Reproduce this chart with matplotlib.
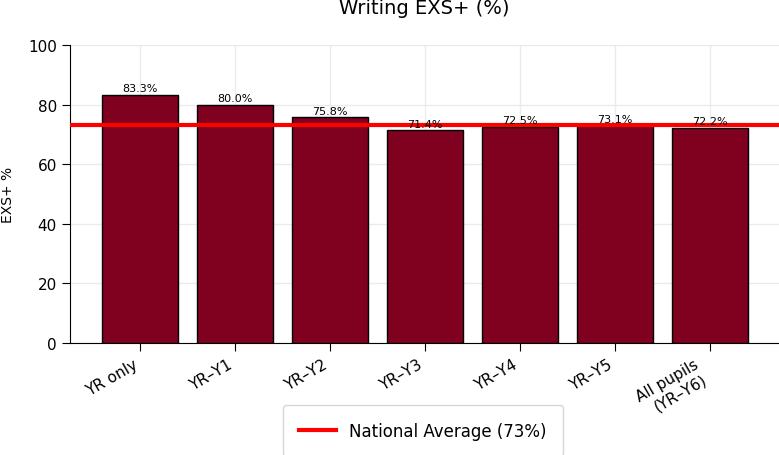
import numpy as np
import matplotlib.pyplot as plt

# Data
groups = ["YR only", "YR\u2013Y1", "YR\u2013Y2", "YR\u2013Y3", "YR\u2013Y4", "YR\u2013Y5", "All pupils\n(YR\u2013Y6)"]
exs_values = [83.3, 80.0, 75.8, 71.4, 72.5, 73.1, 72.2]
national_avg = 73

fig = plt.figure(figsize=(7.79, 4.56), dpi=100)
ax = fig.add_axes([70 / 779, 1 - 344 / 456, 709 / 779, 298 / 456])

x = np.arange(len(groups))
bars = ax.bar(x, exs_values, width=0.8, color="#800020", edgecolor="black", linewidth=1, zorder=3)

# Value labels above each bar
for b, v in zip(bars, exs_values):
    ax.text(b.get_x() + b.get_width() / 2, v + 0.5, f"{v:.1f}%", ha="center", va="bottom",
            fontsize=8, zorder=5)

ax.axhline(national_avg, color="red", linewidth=3, label=f"National Average ({national_avg}%)", zorder=4)

ax.set_xlim(-0.74, 6.73)
ax.set_ylim(0, 100)
ax.set_xticks(x)
ax.set_xticklabels(groups, rotation=30, ha="right", fontsize=11)
ax.tick_params(axis="both", length=6)
ax.tick_params(axis="y", labelsize=11)
ax.set_ylabel("EXS+ %", fontsize=10)
ax.yaxis.set_label_coords(-0.078, 0.5)
ax.set_title("Writing EXS+ (%)", fontsize=14, pad=23)
ax.grid(True, color="#ebebeb", linewidth=1, zorder=0)
ax.spines["top"].set_visible(False)
ax.spines["right"].set_visible(False)

ax.legend(loc="upper center", bbox_to_anchor=(0.498, -0.18),
          fontsize=12, frameon=True, borderpad=1.0, handlelength=2.2)

fig.savefig("out.png", dpi=100)
